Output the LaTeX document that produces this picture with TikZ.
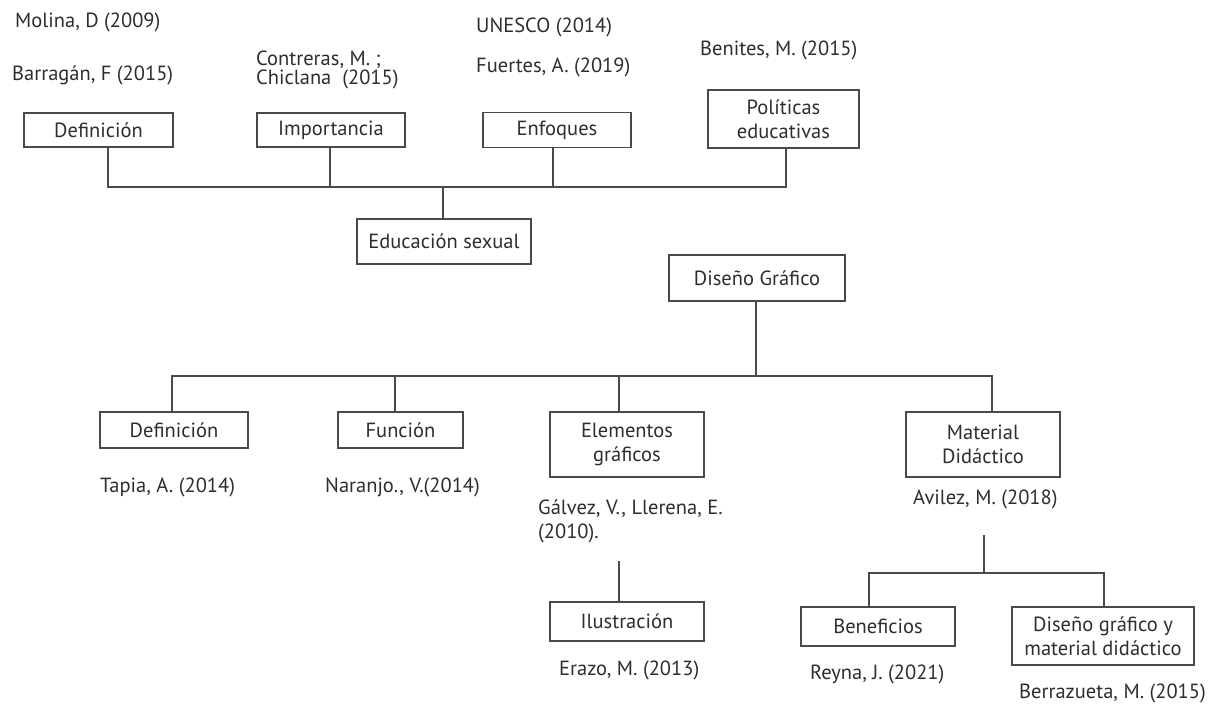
\documentclass[tikz,border=0pt]{standalone}
\usepackage{fontspec}
\setmainfont{PT Sans}
\definecolor{ln}{HTML}{4A4A4A}
\definecolor{tx}{HTML}{2E2E2E}
\begin{document}
\begin{tikzpicture}[x=1pt,y=-1pt,
  box/.style={draw=ln, line width=1.3pt, rectangle, inner sep=0pt, align=center, text=tx, font=\fontsize{20.5}{24}\selectfont},
  lbl/.style={anchor=west, inner sep=0pt, text=tx, font=\fontsize{20.5}{24}\selectfont, align=left},
  conn/.style={draw=ln, line width=1.3pt}]
\useasboundingbox[fill=white] (0,0) rectangle (1212,704);

% top tree
\node[box, minimum width=149pt, minimum height=34pt] (def1) at (98.5,130) {Definición};
\node[box, minimum width=148pt, minimum height=34pt] (imp) at (331,130) {Importancia};
\node[box, minimum width=148pt, minimum height=35pt] (enf) at (557,130) {Enfoques};
\node[box, minimum width=151pt, minimum height=58pt] (pol) at (783.5,119) {Políticas\\educativas};
\node[box, minimum width=174pt, minimum height=45pt] (edu) at (444,241.5) {Educación sexual};

\node[lbl] (t1) at (15,22) {Molina, D (2009)};
\node[lbl] (t2) at (12,75) {Barragán, F (2015)};
\node[lbl] (t3) at (256,59.5) {Contreras, M. ;};
\node[lbl] (t4) at (256,79.5) {Chiclana\ \ (2015)};
\node[lbl] (t5) at (476,27) {UNESCO (2014)};
\node[lbl] (t6) at (476,67) {Fuertes, A. (2019)};
\node[lbl] (t7) at (700,50) {Benites, M. (2015)};

\coordinate (b1) at (443,187);
\draw[conn] ([xshift=9.5pt]def1.south) |- (b1) -| ([xshift=2.5pt]pol.south);
\draw[conn] ([xshift=-1pt]imp.south) -- ([xshift=-1pt]imp.south |- b1);
\draw[conn] ([xshift=-4pt]enf.south) -- ([xshift=-4pt]enf.south |- b1);
\draw[conn] (b1) -- (b1 |- edu.north);

% bottom tree
\node[box, minimum width=176pt, minimum height=46pt] (dis) at (757,278) {Diseño Gráfico};
\node[box, minimum width=148pt, minimum height=36pt] (def2) at (174,430) {Definición};
\node[box, minimum width=125pt, minimum height=36pt] (fun) at (400.5,430) {Función};
\node[box, minimum width=154pt, minimum height=65pt] (ele) at (627,444.5) {Elementos\\gráficos};
\node[box, minimum width=154pt, minimum height=65pt] (mat) at (983,444.5) {Material\\Didáctico};
\node[box, minimum width=154pt, minimum height=39pt] (ilu) at (627,621.5) {Ilustración};
\node[box, minimum width=154pt, minimum height=39pt] (ben) at (878,626.5) {Beneficios};
\node[box, minimum width=182pt, minimum height=58pt] (dgm) at (1103,636) {Diseño gráfico y\\material didáctico};

\node[lbl] (u1) at (100,487) {Tapia, A. (2014)};
\node[lbl] (u2) at (325,487) {Naranjo., V.(2014)};
\node[lbl] (u3) at (538,521) {Gálvez, V., Llerena, E.\\(2010).};
\node[lbl] (u4) at (913,499) {Avilez, M. (2018)};
\node[lbl] (u5) at (559,670) {Erazo, M. (2013)};
\node[lbl] (u6) at (810,674) {Reyna, J. (2021)};
\node[lbl] (u7) at (1019,693) {Berrazueta, M. (2015)};

\coordinate (b2) at (756,376);
\draw[conn] (dis.south -| b2) -- (b2);
\draw[conn] ([xshift=-2pt]def2.north) |- (b2) -| ([xshift=9pt]mat.north);
\draw[conn] ([xshift=-5.5pt]fun.north) -- ([xshift=-5.5pt]fun.north |- b2);
\draw[conn] ([xshift=-8pt]ele.north) -- ([xshift=-8pt]ele.north |- b2);

\coordinate (i1) at (619,561);
\draw[conn] (i1) -- (i1 |- ilu.north);

\coordinate (m1) at (984,535);
\coordinate (b3) at (984,573);
\draw[conn] (m1) -- (b3);
\draw[conn] ([xshift=-9pt]ben.north) |- (b3) -| ([xshift=1pt]dgm.north);
\end{tikzpicture}
\end{document}
